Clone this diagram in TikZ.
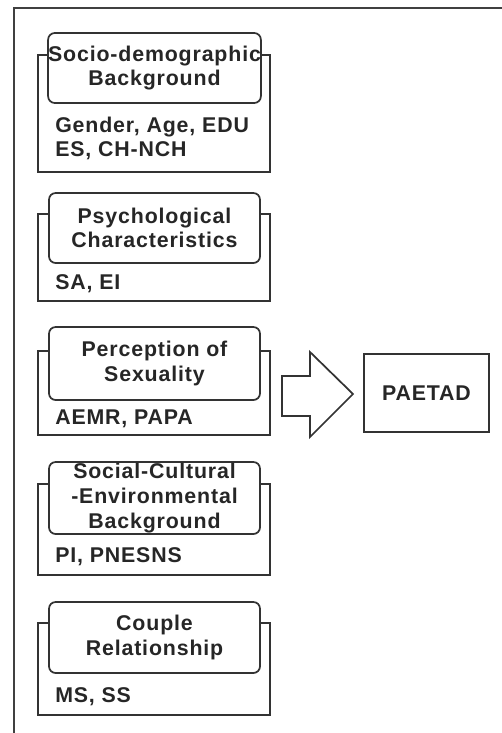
\documentclass[tikz,border=0pt]{standalone}
\usepackage{fontspec}
\setmainfont{Liberation Sans}[LetterSpace=4]
\definecolor{ln}{HTML}{333333}
\begin{document}
\begin{tikzpicture}[x=0.75pt,y=-0.75pt,
  every node/.style={font=\bfseries\fontsize{16}{18.5}\selectfont, text=black!85, inner sep=0pt},
  outerbox/.style={draw=ln, line width=1.3pt, minimum width=174pt},
  titlebox/.style={draw=ln, line width=1.3pt, fill=white, rounded corners=5pt, minimum width=158.25pt, align=center},
  bodytext/.style={anchor=west, align=left},
  frameline/.style={draw=black!75, line width=1.3pt}
]
\useasboundingbox (0,0) rectangle (502,733);
\coordinate (fbot) at (14,733);
\coordinate (fcorner) at (14,8);
\coordinate (fright) at (502,8);
\draw[frameline] (fbot) -- (fcorner) -- (fright);

% group 1
\node[outerbox, minimum height={(172-55)*0.75pt}] (o1) at (154,113.5) {};
\node[titlebox, minimum height={(103-33)*0.75pt}] (t1) at (154.5,68) {Socio-demographic\\Background};
\node[bodytext] (b1) at (55,138.5) {Gender, Age, EDU\\ES, CH-NCH};

% group 2
\node[outerbox, minimum height={(301-214)*0.75pt}] (o2) at (154,257.5) {};
\node[titlebox, minimum height={(263-193)*0.75pt}] (t2) at (154.5,228) {Psychological\\Characteristics};
\node[bodytext] (b2) at (55,284) {SA, EI};

% group 3
\node[outerbox, minimum height={(435-351)*0.75pt}] (o3) at (154,393) {};
\node[titlebox, minimum height={(400-327)*0.75pt}] (t3) at (154.5,363.5) {Perception of\\Sexuality};
\node[bodytext] (b3) at (55,419) {AEMR, PAPA};

% group 4
\node[outerbox, minimum height={(575-484)*0.75pt}] (o4) at (154,529.5) {};
\node[titlebox, minimum height={(534-462)*0.75pt}] (t4) at (154.5,498) {Social-Cultural\\-Environmental\\Background};
\node[bodytext] (b4) at (55,557) {PI, PNESNS};

% group 5
\node[outerbox, minimum height={(715-623)*0.75pt}] (o5) at (154,669) {};
\node[titlebox, minimum height={(673-602)*0.75pt}] (t5) at (154.5,637.5) {Couple\\Relationship};
\node[bodytext] (b5) at (55,697) {MS, SS};

% outcome
\node[draw=ln, line width=1.3pt, minimum width={(489-364)*0.75pt}, minimum height={(432-354)*0.75pt}] (out) at (426.5,393) {PAETAD};

% block arrow
\draw[draw=ln, line width=1.3pt, fill=white, line join=miter]
  (282,376) -- (310,376) -- (310,352) -- (353,394) -- (310,437) -- (310,416) -- (282,416) -- cycle;
\end{tikzpicture}
\end{document}
